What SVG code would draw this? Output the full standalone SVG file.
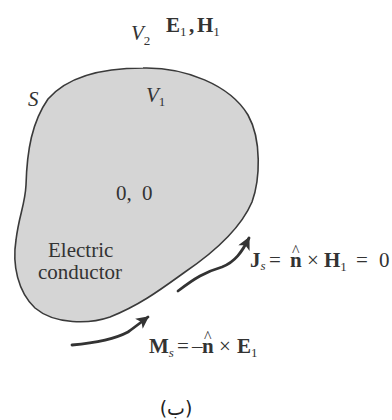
<svg xmlns="http://www.w3.org/2000/svg" width="392" height="420" viewBox="0 0 392 420">
<style>
.t{font-family:"Liberation Serif","Times New Roman",serif;fill:#333;font-size:21px}
.i{font-style:italic}
.b{font-weight:bold}
.sub{font-size:13px}
.hat{font-size:16px;font-weight:normal}
.ar{stroke:#333;stroke-width:2.8;fill:none;stroke-linecap:round}
</style>
<defs>
<marker id="ah" viewBox="0 0 10 10" refX="9" refY="5" markerWidth="5.5" markerHeight="4.5" orient="auto" markerUnits="strokeWidth">
<path d="M0,0 L10,5 L0,10 L2.5,5 Z" fill="#333"/>
</marker>
</defs>
<rect width="392" height="420" fill="#fff"/>
<g id="conductor">
<path d="M143,68 C185,67 230,85 248,115 C262,140 260,180 252,202 C240,230 210,255 185,272 C160,290 140,305 110,317 C90,324 55,325 35,308 C18,292 12,265 16,240 C19,215 25,205 26,185 C27,150 32,122 48,99 C68,76 105,68 143,68 Z" fill="#d5d5d5" stroke="#3a3a3a" stroke-width="1.6"/>
<text class="t" x="48" y="257">Electric</text>
<text class="t" x="38" y="279">conductor</text>
<text class="t" y="200"><tspan x="116">0,</tspan><tspan x="142">0</tspan></text>
<text class="t i" x="146" y="102">V<tspan class="sub" font-style="normal" dy="4">1</tspan></text>
</g>
<g id="labels">
<text class="t i" x="28" y="106">S</text>
<text class="t i" x="131" y="40">V<tspan class="sub" font-style="normal" dy="5">2</tspan></text>
<text class="t b" y="32" font-size="22"><tspan x="166">E</tspan><tspan class="sub" font-weight="normal" dy="4">1</tspan><tspan dy="-4" x="189">,</tspan><tspan x="197">H</tspan><tspan class="sub" font-weight="normal" dy="4">1</tspan></text>
</g>
<g id="connectors">
<path class="ar" d="M178,291 C195,278 205,272 222,267 C235,262 242,252 249,238" marker-end="url(#ah)"/>
<path class="ar" d="M72,345 C95,343 115,339 128,332 C135,327 140,323 148,317" marker-end="url(#ah)"/>
</g>
<g id="Js">
<text class="t" y="267"><tspan class="b" x="250">J</tspan><tspan class="sub i" dy="3">s</tspan><tspan dy="-3" x="269">=</tspan><tspan class="hat" x="292" dy="-11">^</tspan><tspan class="b" x="290" dy="11">n</tspan><tspan x="307">×</tspan><tspan class="b" x="324">H</tspan><tspan class="sub" dy="4">1</tspan><tspan dy="-4" x="356">=</tspan><tspan x="379">0</tspan></text>
</g>
<g id="Ms">
<text class="t" y="353"><tspan class="b" x="149">M</tspan><tspan class="sub i" dy="4">s</tspan><tspan dy="-4" x="177">=</tspan><tspan x="192">–</tspan><tspan class="hat" x="204" dy="-11">^</tspan><tspan class="b" x="202" dy="11">n</tspan><tspan x="219">×</tspan><tspan class="b" x="237">E</tspan><tspan class="sub" dy="4">1</tspan></text>
</g>
<text x="176" y="415" text-anchor="middle" font-family="'DejaVu Sans',sans-serif" font-size="19" fill="#222">(ب)</text>
</svg>
